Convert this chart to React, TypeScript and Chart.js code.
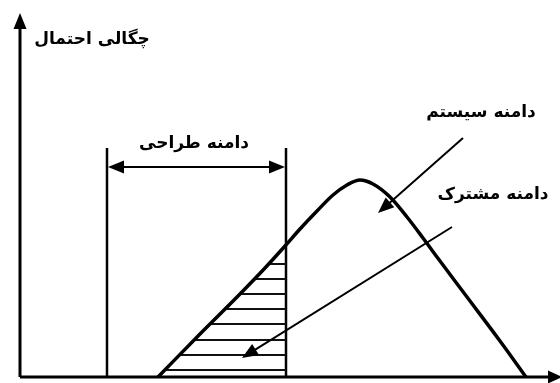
import React, { useEffect, useRef } from "react";
import { Chart, registerables } from "chart.js";

Chart.register(...registerables);

// Curve of the system's probability density (x: quantity, y: density)
const curveX = [138, 180, 220, 245, 265, 280, 297, 313, 327, 340, 353, 370, 387, 403, 417, 447, 480, 506];
const curveY = [0, 43, 83, 109, 131, 148, 166, 182, 192, 197, 193, 180, 160, 139, 120, 80, 36, 0];

// Design range boundaries (x) and the height of the boundary lines
const designRange = [87, 266];
const designLineTop = 229;
const designArrowLevel = 210;

// Hatch levels inside the common range
const hatchLevels = [113, 98, 83, 68, 53, 37, 22, 7];

// Axis extents
const xAxisEnd = 540;
const yAxisEnd = 364;

// Labels
const yAxisLabel = "چگالی احتمال";
const designLabel = "دامنه طراحی";
const systemLabel = "دامنه سیستم";
const commonLabel = "دامنه مشترک";

// Label anchors (centre)
const yAxisLabelPos = [72, 337];
const designLabelPos = [174, 233];
const systemLabelPos = [461, 264];
const commonLabelPos = [473, 182];

// Annotation arrows [fromX, fromY, toX, toY]
const systemArrow = [443, 239, 358, 164];
const commonArrow = [432, 150, 222, 19];

function leftBranchX(level: number): number {
  for (let i = 0; i < curveX.length - 1; i++) {
    const y0 = curveY[i];
    const y1 = curveY[i + 1];
    if (y1 < y0) break;
    if (level >= y0 && level <= y1) {
      const t = (level - y0) / (y1 - y0 || 1);
      return curveX[i] + t * (curveX[i + 1] - curveX[i]);
    }
  }
  return curveX[0];
}

function arrowHead(ctx: CanvasRenderingContext2D, fx: number, fy: number, tx: number, ty: number, len: number, half: number) {
  const a = Math.atan2(ty - fy, tx - fx);
  ctx.beginPath();
  ctx.moveTo(tx, ty);
  ctx.lineTo(tx - len * Math.cos(a) + half * Math.sin(a), ty - len * Math.sin(a) - half * Math.cos(a));
  ctx.lineTo(tx - len * Math.cos(a) - half * Math.sin(a), ty - len * Math.sin(a) + half * Math.cos(a));
  ctx.closePath();
  ctx.fill();
}

export default function App() {
  const ref = useRef<HTMLCanvasElement | null>(null);

  useEffect(() => {
    if (!ref.current) return;
    const black = "#000";

    const hatchSets = hatchLevels.map((lv) => ({
      data: [
        { x: leftBranchX(lv), y: lv },
        { x: designRange[1], y: lv },
      ],
      borderColor: "#111",
      borderWidth: 2,
      pointRadius: 0,
      showLine: true,
      tension: 0,
    }));

    const verticals = designRange.map((x) => ({
      data: [
        { x, y: 0 },
        { x, y: designLineTop },
      ],
      borderColor: black,
      borderWidth: 2.5,
      pointRadius: 0,
      showLine: true,
      tension: 0,
    }));

    const overlay = {
      id: "overlay",
      afterDraw(chart: any) {
        const ctx: CanvasRenderingContext2D = chart.ctx;
        const xs = chart.scales.x;
        const ys = chart.scales.y;
        const px = (v: number) => xs.getPixelForValue(v);
        const py = (v: number) => ys.getPixelForValue(v);
        ctx.save();
        ctx.strokeStyle = black;
        ctx.fillStyle = black;
        ctx.lineCap = "butt";

        // axes
        ctx.lineWidth = 3;
        ctx.beginPath();
        ctx.moveTo(px(0), py(0));
        ctx.lineTo(px(xAxisEnd) - 8, py(0));
        ctx.moveTo(px(0), py(0));
        ctx.lineTo(px(0), py(yAxisEnd) + 8);
        ctx.stroke();
        arrowHead(ctx, px(0), py(0), px(xAxisEnd) + 2, py(0), 14, 6.5);
        arrowHead(ctx, px(0), py(0), px(0), py(yAxisEnd), 16, 6.5);

        // design range double arrow
        const ax0 = px(designRange[0]);
        const ax1 = px(designRange[1]);
        const ay = py(designArrowLevel);
        ctx.lineWidth = 2;
        ctx.beginPath();
        ctx.moveTo(ax0 + 10, ay);
        ctx.lineTo(ax1 - 10, ay);
        ctx.stroke();
        arrowHead(ctx, ax1, ay, ax0 + 1, ay, 16, 6.5);
        arrowHead(ctx, ax0, ay, ax1 - 1, ay, 16, 6.5);

        // annotation arrows
        for (const a of [systemArrow, commonArrow]) {
          const fx = px(a[0]), fy = py(a[1]), tx = px(a[2]), ty = py(a[3]);
          const ang = Math.atan2(ty - fy, tx - fx);
          ctx.lineWidth = 2;
          ctx.beginPath();
          ctx.moveTo(fx, fy);
          ctx.lineTo(tx - 10 * Math.cos(ang), ty - 10 * Math.sin(ang));
          ctx.stroke();
          arrowHead(ctx, fx, fy, tx, ty, 16, 6.5);
        }

        // texts
        ctx.font = "bold 17px 'DejaVu Sans'";
        ctx.textAlign = "center";
        ctx.textBaseline = "middle";
        ctx.direction = "rtl";
        const texts: [string, number[]][] = [
          [yAxisLabel, yAxisLabelPos],
          [designLabel, designLabelPos],
          [systemLabel, systemLabelPos],
          [commonLabel, commonLabelPos],
        ];
        for (const [t, p] of texts) {
          ctx.fillText(t, px(p[0]), py(p[1]));
        }
        ctx.restore();
      },
    };

    const chart = new Chart(ref.current, {
      type: "scatter",
      data: {
        datasets: [
          {
            data: curveX.map((x, i) => ({ x, y: curveY[i] })),
            borderColor: black,
            borderWidth: 3.5,
            pointRadius: 0,
            showLine: true,
            cubicInterpolationMode: "monotone",
          } as any,
          ...hatchSets,
          ...verticals,
        ],
      },
      options: {
        animation: false,
        responsive: false,
        maintainAspectRatio: false,
        layout: { padding: 0 },
        plugins: { legend: { display: false }, tooltip: { enabled: false }, title: { display: false } },
        events: [],
        scales: {
          x: { type: "linear", min: -20, max: 540, display: false },
          y: { type: "linear", min: -6, max: 377, display: false },
        },
      },
      plugins: [overlay],
    });
    return () => chart.destroy();
  }, []);

  return (
    <div style={{ position: "absolute", left: 0, top: 0, width: 560, height: 383, background: "#fff" }}>
      <canvas ref={ref} width={560} height={383} style={{ width: 560, height: 383, display: "block" }} />
    </div>
  );
}
